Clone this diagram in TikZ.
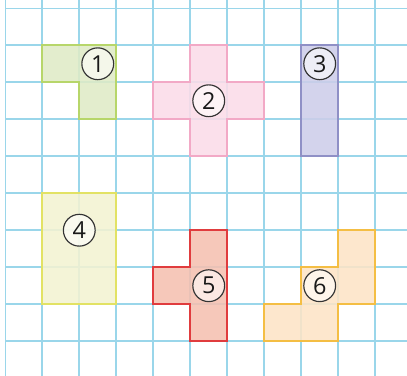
\documentclass[tikz,border=0pt]{standalone}
\usepackage{fontspec}
\setmainfont{Open Sans}
\usepackage{xcolor}
\usepackage{tikz}
\usetikzlibrary{positioning}

\definecolor{gridblue}{HTML}{9AD6EA}
\definecolor{greenfill}{HTML}{DFEBC6}
\definecolor{greenline}{HTML}{B7D66A}
\definecolor{pinkfill}{HTML}{FBDCE8}
\definecolor{pinkline}{HTML}{F2A9C6}
\definecolor{lilacfill}{HTML}{CDCDE9}
\definecolor{lilacline}{HTML}{8F90C6}
\definecolor{yellowfill}{HTML}{F3F2D2}
\definecolor{yellowline}{HTML}{E2E264}
\definecolor{redfill}{HTML}{F5C0B0}
\definecolor{redline}{HTML}{E03C3E}
\definecolor{orangefill}{HTML}{FDE4C6}
\definecolor{orangeline}{HTML}{F4BE44}

\begin{document}
\begin{tikzpicture}[
    gridline/.style={gridblue, line width=1.2pt},
    piece/.style={line width=1.6pt, line join=miter, fill opacity=0.88},
    num/.style={circle, draw=black!80, line width=0.9pt, fill=white, fill opacity=0.6, text opacity=1,
                minimum size=0.86cm, inner sep=0pt, font=\fontsize{18}{18}\selectfont, text=black!90}
]
    \useasboundingbox (-0.143,-9.94) rectangle (10.86,0.224);

    % Grid
    \foreach \x in {0,...,10} {
        \draw[gridline] (\x,-9.94) -- (\x,0.224);
    }
    \foreach \y in {0,...,9} {
        \draw[gridline] (0,-\y) -- (10.86,-\y);
    }

    % Pieces
    \draw[piece, draw=greenline, fill=greenfill] (1,-1) -- (3,-1) -- (3,-3) -- (2,-3) -- (2,-2) -- (1,-2) -- cycle;
    \draw[piece, draw=pinkline, fill=pinkfill] (5,-1) -- (6,-1) -- (6,-2) -- (7,-2) -- (7,-3) -- (6,-3) -- (6,-4)
        -- (5,-4) -- (5,-3) -- (4,-3) -- (4,-2) -- (5,-2) -- cycle;
    \draw[piece, draw=lilacline, fill=lilacfill] (8,-1) rectangle (9,-4);
    \draw[piece, draw=yellowline, fill=yellowfill] (1,-5) rectangle (3,-8);
    \draw[piece, draw=redline, fill=redfill] (5,-6) -- (6,-6) -- (6,-9) -- (5,-9) -- (5,-8) -- (4,-8) -- (4,-7)
        -- (5,-7) -- cycle;
    \draw[piece, draw=orangeline, fill=orangefill] (9,-6) -- (10,-6) -- (10,-8) -- (9,-8) -- (9,-9) -- (7,-9)
        -- (7,-8) -- (8,-8) -- (8,-7) -- (9,-7) -- cycle;

    % Numbers
    \node[num] (n1) at (2.5,-1.5) {1};
    \node[num] (n2) at (5.5,-2.5) {2};
    \node[num] (n3) at (8.5,-1.5) {3};
    \node[num] (n4) at (2,-6) {4};
    \node[num] (n5) at (5.5,-7.5) {5};
    \node[num] (n6) at (8.5,-7.5) {6};
\end{tikzpicture}
\end{document}
